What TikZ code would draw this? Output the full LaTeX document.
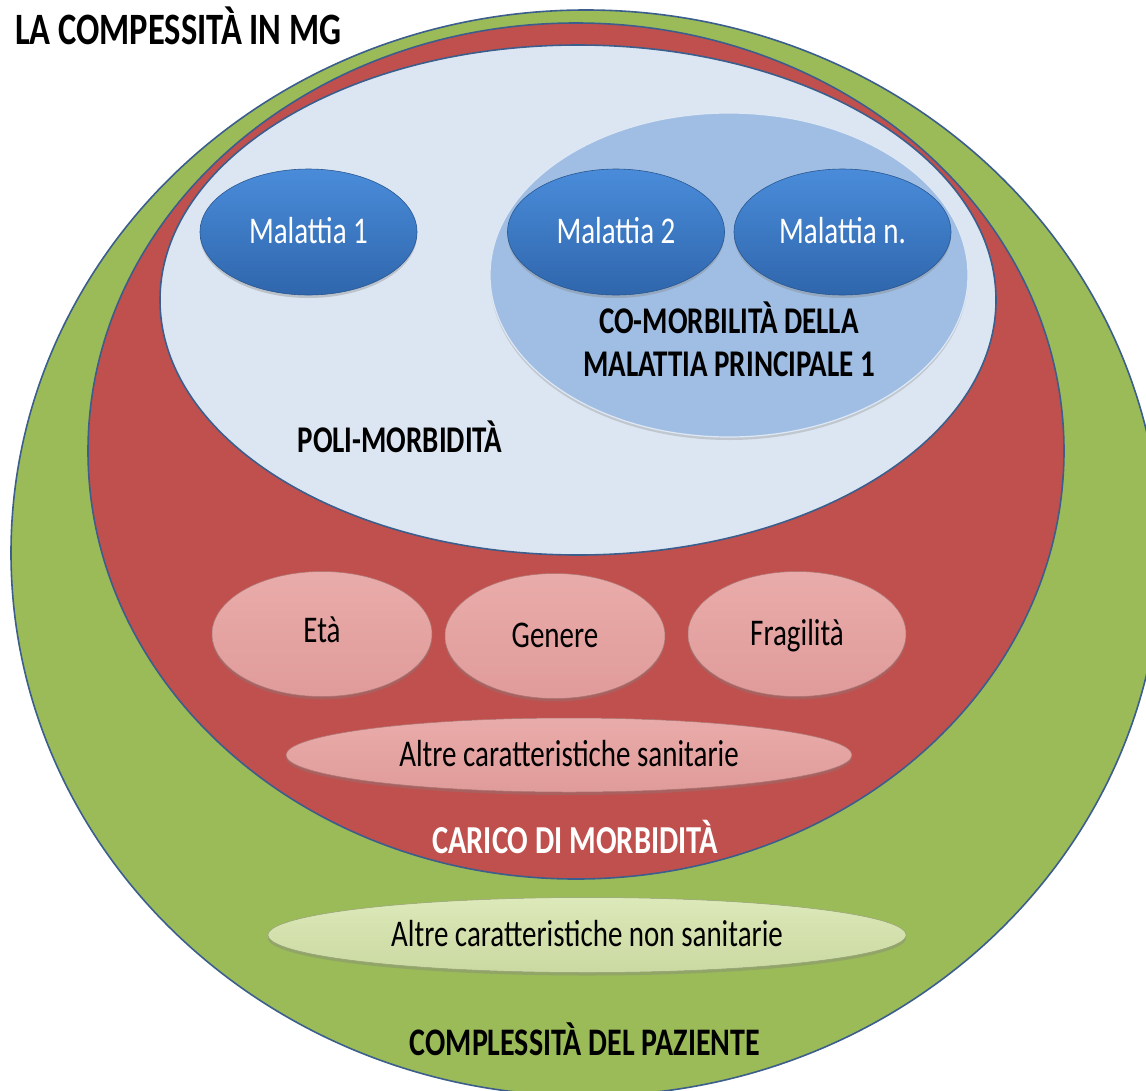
\documentclass[tikz,border=0pt]{standalone}
\usepackage{fontspec}
\setmainfont{Carlito}
\usetikzlibrary{shapes.geometric,shadows}
\newcommand{\vstr}[1]{\scalebox{1}[1.3]{#1}}
\definecolor{grn}{HTML}{9BBB59}
\definecolor{rd}{HTML}{C0504D}
\definecolor{edgeblue}{HTML}{3B5E8C}
\definecolor{lblue}{HTML}{DCE6F2}
\definecolor{mblue}{HTML}{A0BEE3}
\definecolor{dblueT}{HTML}{4A8CDA}
\definecolor{dblueB}{HTML}{2F66AC}
\definecolor{pinkfill}{HTML}{E6A09E}
\definecolor{lgreen}{HTML}{D5E4AA}
\begin{document}
\begin{tikzpicture}[x=1pt,y=-1pt,
  zone/.style={ellipse, draw=edgeblue, line width=1.6pt, inner sep=0pt},
  softshadow/.style={drop shadow={opacity=0.35, shadow xshift=0pt, shadow yshift=-3pt}},
  disease/.style={ellipse, inner sep=0pt, minimum width=217pt, minimum height=126pt,
     top color=dblueT, bottom color=dblueB, draw=dblueB!85!black, line width=0.6pt,
     softshadow, text=white, font=\fontsize{29}{33}\selectfont, text height=23pt, text depth=0pt},
  factor/.style={ellipse, inner sep=0pt, top color=pinkfill!88!white, bottom color=pinkfill!97!black,
     draw=pinkfill!75!black, line width=0.5pt, softshadow,
     font=\fontsize{29}{33}\selectfont, text height=23pt, text depth=0pt},
  lab/.style={anchor=base, inner sep=0pt, font=\fontsize{29}{33}\selectfont\bfseries},
]
\useasboundingbox (0,0) rectangle (1146,1090);
\clip (0,0) rectangle (1146,1090);
\fill[white] (0,0) rectangle (1146,1090);

% nested zones
\node[zone, fill=grn, minimum width=1150pt, minimum height=1086pt] (patient) at (586,553) {};
\node[zone, fill=rd, minimum width=976pt, minimum height=856pt] (burden) at (576,451) {};
\node[zone, fill=lblue, minimum width=836pt, minimum height=510pt] (poly) at (578,300) {};
\node[ellipse, inner sep=0pt, minimum width=478pt, minimum height=324pt,
      fill=mblue, draw=white!65!mblue, line width=1.2pt,
      drop shadow={opacity=0.3, shadow xshift=0pt, shadow yshift=-3pt}] (comorb) at (729,275) {};

% diseases
\node[disease] (m1) at (308.5,232) {\vstr{Malattia 1}};
\node[disease] (m2) at (616,232) {\vstr{Malattia 2}};
\node[disease] (mn) at (842.5,232) {\vstr{Malattia n.}};

% factors
\node[factor, minimum width=220pt, minimum height=125pt] (eta) at (322,634) {\raisebox{3pt}{\vstr{Età}}};
\node[factor, minimum width=220pt, minimum height=125pt] (genere) at (555,636) {\vstr{Genere}};
\node[factor, minimum width=218pt, minimum height=125pt] (frag) at (797,634) {\vstr{Fragilità}};
\node[factor, minimum width=566pt, minimum height=74pt] (sanit) at (569,755) {\vstr{Altre caratteristiche sanitarie}};
\node[ellipse, inner sep=0pt, minimum width=638pt, minimum height=75pt,
      top color=lgreen!82!white, bottom color=lgreen!95!black, draw=lgreen!70!black, line width=0.5pt,
      softshadow, font=\fontsize{29}{33}\selectfont, text height=23pt, text depth=0pt] (nonsanit) at (587,935) {\vstr{Altre caratteristiche non sanitarie}};

% labels
\node[lab, anchor=base west, font=\fontsize{34.5}{38}\selectfont\bfseries] (title) at (15,44) {\vstr{LA COMPESSITÀ IN MG}};
\node[lab] (como1) at (729,333) {\vstr{CO-MORBILITÀ DELLA}};
\node[lab] (como2) at (729,376) {\vstr{MALATTIA PRINCIPALE 1}};
\node[lab] (polilab) at (400,452) {\vstr{POLI-MORBIDITÀ}};
\node[lab, text=white, font=\fontsize{30.5}{34}\selectfont\bfseries] (carico) at (575,853) {\vstr{CARICO DI MORBIDITÀ}};
\node[lab, font=\fontsize{30}{34}\selectfont\bfseries] (compl) at (585,1055) {\vstr{COMPLESSITÀ DEL PAZIENTE}};
\end{tikzpicture}
\end{document}
